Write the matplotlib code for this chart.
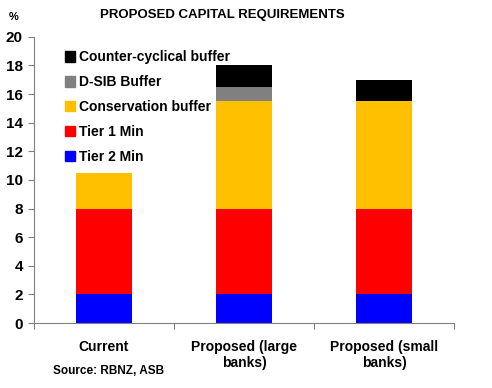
import numpy as np
import matplotlib
matplotlib.use("Agg")
import matplotlib.pyplot as plt
from matplotlib.patches import Patch

plt.rcParams["font.family"] = ["Liberation Sans", "DejaVu Sans"]
plt.rcParams["font.weight"] = "bold"

categories = ["Current", "Proposed (large\nbanks)", "Proposed (small\nbanks)"]
tier2 = [2, 2, 2]
tier1 = [6, 6, 6]
conservation = [2.5, 7.5, 7.5]
dsib = [0, 1, 0]
ccyb = [0, 1.5, 1.5]

series = [
    ("Tier 2 Min", tier2, "#0000FF"),
    ("Tier 1 Min", tier1, "#FF0000"),
    ("Conservation buffer", conservation, "#FFC000"),
    ("D-SIB Buffer", dsib, "#808080"),
    ("Counter-cyclical buffer", ccyb, "#000000"),
]

fig = plt.figure(figsize=(4.92, 3.88), dpi=100)
ax = fig.add_axes([0.069, 0.1675, 0.854, 0.7375])

x = np.arange(len(categories))
bottom = np.zeros(len(categories))
for name, vals, col in series:
    vals = np.array(vals, dtype=float)
    ax.bar(x, vals, bottom=bottom, width=0.4, color=col, label=name, zorder=2)
    bottom += vals

ax.set_xlim(-0.5, 2.5)
ax.set_ylim(0, 20)
ax.set_yticks(range(0, 21, 2))
ax.tick_params(axis="y", labelsize=11, length=4, color="#808080", direction="out", pad=4)
ax.set_xticks([-0.5, 0.5, 1.5, 2.5], minor=False)
ax.set_xticklabels([])
ax.tick_params(axis="x", length=4, color="#808080", direction="out")
ax.set_xticks(x, minor=True)
ax.set_xticklabels(categories, minor=True, fontsize=10)
ax.tick_params(axis="x", which="minor", length=0, pad=12)
for lbl in ax.get_xticklabels(minor=True):
    lbl.set_fontweight("bold")
for lbl in ax.get_yticklabels():
    lbl.set_fontweight("bold")

for s in ["top", "right"]:
    ax.spines[s].set_visible(False)
for s in ["left", "bottom"]:
    ax.spines[s].set_color("#808080")

handles = [Patch(color=c, label=n) for n, v, c in series][::-1]
leg = ax.legend(handles=handles, loc="upper left", bbox_to_anchor=(0.06, 0.972),
                frameon=False, fontsize=10, handlelength=0.75, handleheight=0.75,
                handletextpad=0.3, labelspacing=0.78, borderaxespad=0)
leg.set_zorder(5)
for t in leg.get_texts():
    t.set_fontweight("bold")

fig.text(0.452, 0.962, "PROPOSED CAPITAL REQUIREMENTS", ha="center", va="center",
         fontsize=9.5, fontweight="bold")
fig.text(0.028, 0.955, "%", ha="center", va="center", fontsize=8, fontweight="bold")
fig.text(0.22, 0.045, "Source: RBNZ, ASB", ha="center", va="center",
         fontsize=8.5, fontweight="bold")

fig.savefig("out.png", dpi=100)
